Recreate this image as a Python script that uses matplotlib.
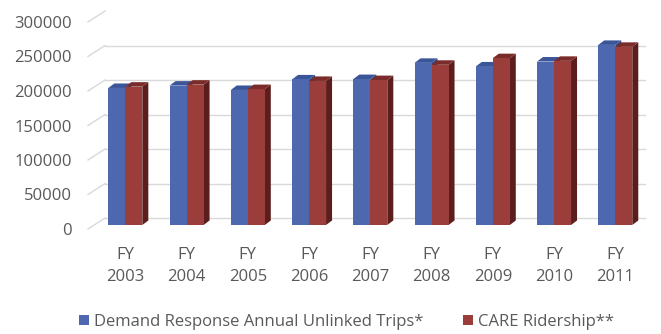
import matplotlib
matplotlib.use("Agg")
import matplotlib.pyplot as plt
from matplotlib.patches import Polygon, Patch
from matplotlib.lines import Line2D
import matplotlib.transforms as mtransforms
import numpy as np

categories = ["FY\n2003", "FY\n2004", "FY\n2005", "FY\n2006", "FY\n2007",
              "FY\n2008", "FY\n2009", "FY\n2010", "FY\n2011"]
demand_response = [198600, 202000, 195700, 211000, 211500, 235000, 229800, 236900, 261000]
care_ridership = [200500, 203400, 197000, 208800, 210000, 232200, 241800, 237900, 258200]
series_names = ["Demand Response Annual Unlinked Trips*", "CARE Ridership**"]
yticks = [0, 50000, 100000, 150000, 200000, 250000, 300000]

plt.rcParams['font.family'] = ['Open Sans', 'DejaVu Sans']
TXT = "#595959"
FS = 12

W, H, DPI = 661, 334, 100
fig = plt.figure(figsize=(W / DPI, H / DPI), dpi=DPI)
ax_left, ax_right = 94.7, 645.9
ax_bot, ax_top = 225, 18
ax = fig.add_axes([ax_left / W, (H - ax_bot) / H, (ax_right - ax_left) / W, (ax_bot - ax_top) / H])
ax.set_xlim(-0.5, len(categories) - 0.5)
ax.set_ylim(0, 300000)
for s in ax.spines.values():
    s.set_visible(False)
ax.patch.set_visible(False)

def off(dx_px, dy_px):
    return ax.transData + mtransforms.ScaledTranslation(dx_px / DPI, dy_px / DPI, fig.dpi_scale_trans)

# gridlines: front-left diagonal to back wall, then along the back wall
x0, x1 = ax.get_xlim()
for v in yticks:
    p_front = off(-6.7, -4).transform((x0, v))
    p_back = off(10.3, 7).transform((x0, v))
    fig.add_artist(Line2D([p_front[0] / W, p_back[0] / W], [p_front[1] / H, p_back[1] / H],
                          transform=fig.transFigure, color="#d9d9d9", lw=1.0, zorder=0))
    ax.add_line(Line2D([x0, x1], [v, v], color="#d9d9d9", lw=1.0, zorder=0,
                       transform=off(10.3, 7)))

# pseudo 3D bars
w = 17 / 61.25
ppx = (x1 - x0) / (ax_right - ax_left)      # data units per px (x)
ppy = 300000 / (ax_bot - ax_top)           # data units per px (y)
ddx, ddy = 6 * ppx, 4.5 * ppy

colors = [("#4e68b0", "#3a5598", "#2f467f"), ("#9a3d3b", "#7a2c2a", "#5c1e1d")]
x = np.arange(len(categories))
for i in range(len(categories)):
    for j, (vals, shift) in enumerate([(demand_response, -w / 2), (care_ridership, w / 2)]):
        v = vals[i]
        front, top, side = colors[j]
        xl = x[i] + shift - w / 2
        xr = x[i] + shift + w / 2
        z = 2 + j
        ax.add_patch(Polygon([(xr, 0), (xr + ddx, ddy), (xr + ddx, v + ddy), (xr, v)],
                             closed=True, facecolor=side, edgecolor="none", zorder=z))
        ax.add_patch(Polygon([(xl, v), (xr, v), (xr + ddx, v + ddy), (xl + ddx, v + ddy)],
                             closed=True, facecolor=top, edgecolor="none", zorder=z))
        ax.bar(x[i] + shift, v, width=w, color=front, edgecolor="none", zorder=z + 0.5)

ax.set_yticks(yticks)
ax.set_yticklabels([str(t) for t in yticks])
ax.tick_params(axis="y", length=0, pad=16.3, labelsize=FS, labelcolor=TXT)
for lab in ax.get_yticklabels():
    lab.set_transform(lab.get_transform() + mtransforms.ScaledTranslation(0, -4 / DPI, fig.dpi_scale_trans))

ax.set_xticks(x)
ax.set_xticklabels(categories, linespacing=1.45)
ax.tick_params(axis="x", length=0, pad=16, labelsize=FS, labelcolor=TXT)

handles = [Patch(facecolor=colors[0][0]), Patch(facecolor=colors[1][0])]
leg = fig.legend(handles, series_names, loc="center", bbox_to_anchor=(346.5 / W, 1 - 321.7 / H),
                 ncol=2, frameon=False, fontsize=FS, labelcolor=TXT,
                 handlelength=0.6, handleheight=0.6, handletextpad=0.3, columnspacing=2.4,
                 borderpad=0, borderaxespad=0)

fig.savefig("out.png", dpi=DPI)
